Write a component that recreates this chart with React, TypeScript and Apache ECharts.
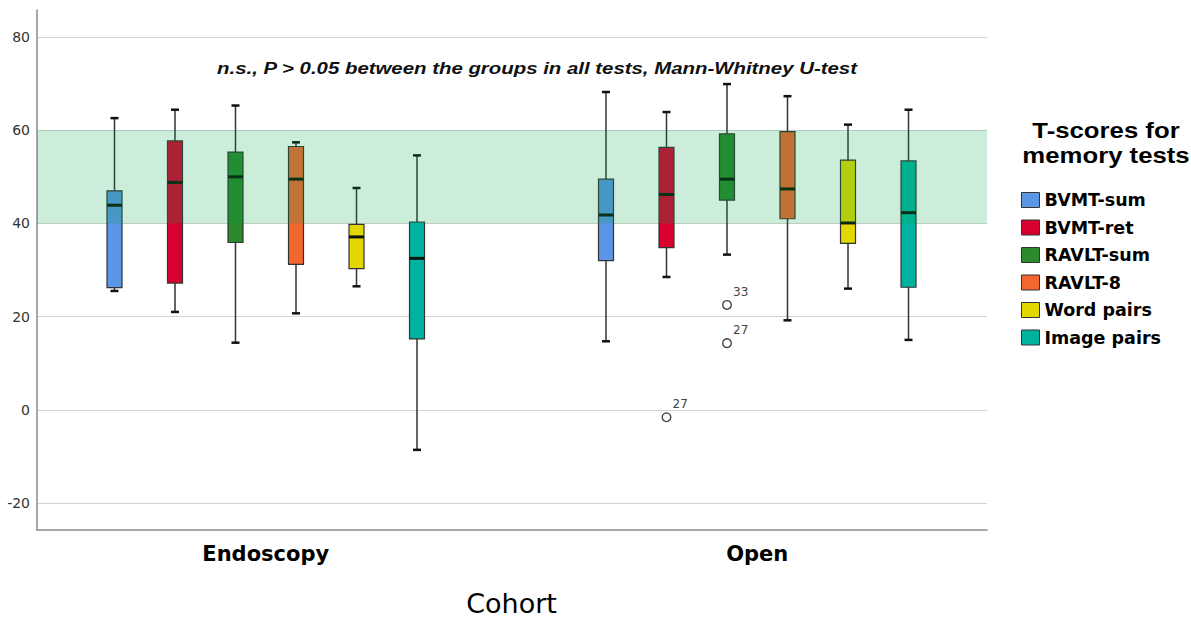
import React, { useEffect, useRef } from "react";
import * as echarts from "echarts";

const COHORTS = ["Endoscopy", "Open"];
const TESTS = ["BVMT-sum", "BVMT-ret", "RAVLT-sum", "RAVLT-8", "Word pairs", "Image pairs"];
const COLORS = ["#5a95e6", "#d8002f", "#2a8a2c", "#f26630", "#e2d700", "#00b3a0"];

// per cohort: [min, q1, median, q3, max]
const BVMT_SUM = [[25.5, 26.2, 43.9, 47.0, 62.6], [14.7, 32.0, 41.8, 49.5, 68.2]];
const BVMT_RET = [[21.0, 27.2, 48.8, 57.7, 64.4], [28.5, 34.8, 46.2, 56.3, 63.9]];
const RAVLT_SUM = [[14.4, 35.9, 50.0, 55.3, 65.3], [33.3, 45.0, 49.5, 59.2, 69.9]];
const RAVLT_8 = [[20.7, 31.2, 49.5, 56.5, 57.4], [19.2, 41.0, 47.4, 59.7, 67.3]];
const WORD_PAIRS = [[26.5, 30.3, 37.1, 39.8, 47.6], [26.0, 35.7, 40.1, 53.6, 61.2]];
const IMAGE_PAIRS = [[-8.6, 15.2, 32.5, 40.3, 54.6], [15.0, 26.3, 42.3, 53.4, 64.4]];
const BOX_STATS = [BVMT_SUM, BVMT_RET, RAVLT_SUM, RAVLT_8, WORD_PAIRS, IMAGE_PAIRS];

// outliers: [cohort index, test index, value, case label]
const OUTLIERS: [number, number, number, string][] = [
  [1, 1, -1.6, "27"],
  [1, 2, 22.5, "33"],
  [1, 2, 14.3, "27"],
];

const NORMAL_RANGE = [40, 60];
const Y_MIN = -25.8;
const Y_MAX = 85.8;
const Y_LABEL_STEP = 20;

const ANNOTATION = "n.s., P > 0.05 between the groups in all tests, Mann-Whitney U-test";
const LEGEND_TITLE = "T-scores for\nmemory tests";
const X_NAME = "Cohort";

const SLOT = 0.1231; // spacing of boxes as fraction of category band
const BOX_W = 15;

export default function App() {
  const ref = useRef<HTMLDivElement>(null);

  useEffect(() => {
    document.body.style.margin = "0";
    const chart = echarts.init(ref.current!, undefined, { renderer: "svg" });

    const boxSeries = TESTS.map((name, ti) => ({
      name,
      type: "custom",
      xAxisIndex: 1,
      yAxisIndex: 1,
      z: 2,
      itemStyle: { color: COLORS[ti] },
      encode: { x: 0, y: [1, 2, 3, 4, 5] },
      data: BOX_STATS[ti].map((s, ci) => [ci, ...s]),
      renderItem: (params: any, api: any) => {
        const cat = api.value(0);
        const band = api.size([1, 0])[0];
        const cx = api.coord([cat, 0])[0] + (ti - 2.5) * band * SLOT;
        const y = (i: number) => api.coord([cat, api.value(i)])[1];
        const yMin = y(1), yQ1 = y(2), yMed = y(3), yQ3 = y(4), yMax = y(5);
        const h = BOX_W / 2;
        return {
          type: "group",
          children: [
            { type: "line", shape: { x1: cx, y1: yMax, x2: cx, y2: yMin }, style: { stroke: "#333", lineWidth: 1.5 } },
            { type: "line", shape: { x1: cx - 4, y1: yMax, x2: cx + 4, y2: yMax }, style: { stroke: "#111", lineWidth: 2.5 } },
            { type: "line", shape: { x1: cx - 4, y1: yMin, x2: cx + 4, y2: yMin }, style: { stroke: "#111", lineWidth: 2.5 } },
            { type: "rect", shape: { x: cx - h, y: yQ3, width: BOX_W, height: yQ1 - yQ3 }, style: { fill: COLORS[ti], stroke: "#333", lineWidth: 1.2 } },
            { type: "line", shape: { x1: cx - h, y1: yMed, x2: cx + h, y2: yMed }, style: { stroke: "#0a140a", lineWidth: 3 } },
          ],
        };
      },
    }));

    const option: any = {
      animation: false,
      grid: [
        { left: 37, right: 204, top: 10, bottom: 87, outerBoundsMode: "none", containLabel: false },
        { left: 20, width: 983, top: 10, bottom: 87, outerBoundsMode: "none", containLabel: false },
      ],
      xAxis: [
        {
          gridIndex: 0,
          type: "value",
          min: 0,
          max: 1,
          axisLine: { show: true, onZero: false, lineStyle: { color: "#8a8a8a", width: 1.5 } },
          axisTick: { show: false },
          axisLabel: { show: false },
          splitLine: { show: false },
        },
        {
          gridIndex: 1,
          type: "category",
          data: COHORTS,
          axisLine: { show: false, onZero: false },
          axisTick: { show: false },
          axisLabel: {
            margin: 13,
            fontFamily: "DejaVu Sans",
            fontWeight: "bold",
            fontSize: 21,
            color: "#000",
          },
          name: X_NAME,
          nameLocation: "middle",
          nameGap: 61,
          nameTextStyle: { fontFamily: "DejaVu Sans", fontSize: 27, lineHeight: 24, color: "#000" },
        },
      ],
      yAxis: [
        {
          gridIndex: 0,
          type: "value",
          min: Y_MIN,
          max: Y_MAX,
          axisLine: { show: true, onZero: false, lineStyle: { color: "#8a8a8a", width: 1.5 } },
          axisTick: { show: false },
          axisLabel: {
            margin: 7,
            fontFamily: "DejaVu Sans",
            fontSize: 14,
            color: "#333",
            formatter: (v: number) => (Math.abs(v % Y_LABEL_STEP) < 1e-6 ? String(v) : ""),
          },
          splitLine: {
            show: true,
            showMinLine: false,
            showMaxLine: false,
            lineStyle: { color: "#d2d2d2", width: 1.2 },
          },
        },
        { gridIndex: 1, type: "value", min: Y_MIN, max: Y_MAX, show: false },
      ],
      legend: {
        data: TESTS,
        orient: "vertical",
        left: 1016,
        top: 186,
        icon: "rect",
        itemWidth: 18,
        itemHeight: 15,
        itemGap: 9.5,
        selectedMode: false,
        itemStyle: { borderColor: "#333", borderWidth: 1 },
        textStyle: {
          fontFamily: "DejaVu Sans",
          fontWeight: "bold",
          fontSize: 17.5,
          lineHeight: 16,
          color: "#000",
        },
      },
      graphic: [
        {
          type: "text",
          x: 537,
          y: 68,
          scaleX: 1.2,
          style: {
            text: ANNOTATION,
            align: "center",
            verticalAlign: "middle",
            font: "italic bold 17px 'Liberation Sans', Arial, sans-serif",
            fill: "#111",
          },
        },
        {
          type: "text",
          x: 1106,
          y: 143,
          scaleX: 1.17,
          style: {
            text: LEGEND_TITLE,
            align: "center",
            verticalAlign: "middle",
            font: "bold 22px 'Liberation Sans', Arial, sans-serif",
            lineHeight: 25,
            fill: "#000",
          },
        },
      ],
      series: [
        ...boxSeries,
        {
          name: "normal range",
          type: "custom",
          xAxisIndex: 0,
          yAxisIndex: 0,
          z: 3,
          silent: true,
          data: [[0, NORMAL_RANGE[0], NORMAL_RANGE[1]]],
          encode: { x: 0, y: [1, 2] },
          renderItem: (params: any, api: any) => {
            const cs = params.coordSys;
            const y0 = api.coord([0, api.value(1)])[1];
            const y1 = api.coord([0, api.value(2)])[1];
            return {
              type: "rect",
              shape: { x: cs.x, y: y1, width: cs.width, height: y0 - y1 },
              style: { fill: "rgba(0,163,71,0.2)" },
            };
          },
        },
        {
          name: "outliers",
          type: "custom",
          xAxisIndex: 1,
          yAxisIndex: 1,
          z: 4,
          data: OUTLIERS.map((o) => [o[0], o[1], o[2]]),
          encode: { x: 0, y: 2 },
          renderItem: (params: any, api: any) => {
            const cat = api.value(0);
            const ti = api.value(1);
            const band = api.size([1, 0])[0];
            const p = api.coord([cat, api.value(2)]);
            const cx = p[0] + (ti - 2.5) * band * SLOT;
            return {
              type: "group",
              children: [
                { type: "circle", shape: { cx, cy: p[1], r: 4.3 }, style: { fill: "#fff", stroke: "#444", lineWidth: 1.4 } },
                {
                  type: "text",
                  x: cx + 6,
                  y: p[1] - 13,
                  style: {
                    text: OUTLIERS[params.dataIndex][3],
                    verticalAlign: "middle",
                    font: "12px 'DejaVu Sans', sans-serif",
                    fill: "#444",
                  },
                },
              ],
            };
          },
        },
      ],
    };

    chart.setOption(option);
    return () => chart.dispose();
  }, []);

  return <div ref={ref} style={{ width: 1191, height: 617 }} />;
}
